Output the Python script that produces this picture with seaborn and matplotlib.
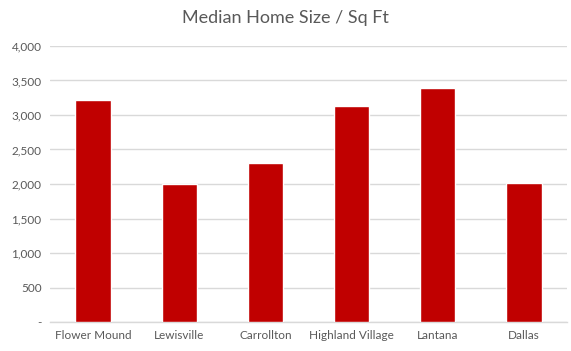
import matplotlib
matplotlib.use("Agg")
import matplotlib.pyplot as plt
import seaborn as sns
import pandas as pd
from matplotlib.ticker import FuncFormatter

cities = ["Flower Mound", "Lewisville", "Carrollton", "Highland Village", "Lantana", "Dallas"]
sizes = [3220, 2005, 2305, 3130, 3395, 2020]
yticks = [0, 500, 1000, 1500, 2000, 2500, 3000, 3500, 4000]

df = pd.DataFrame({"city": cities, "size": sizes})

sns.set_theme(style="white")
plt.rcParams["font.family"] = ["Lato", "DejaVu Sans"]

fig = plt.figure(figsize=(5.71, 3.51), dpi=100)
ax = fig.add_axes([50/571, 29/351, 517/571, (322-46)/351])
sns.barplot(data=df, x="city", y="size", color="#C00000", width=0.41,
            saturation=1, ax=ax, zorder=3)
ax.set_ylim(0, 4000)
ax.set_xlim(-0.5, len(cities) - 0.5)
ax.set_yticks(yticks)
ax.yaxis.set_major_formatter(FuncFormatter(lambda v, p: "-" if v == 0 else f"{int(v):,}"))
ax.grid(axis="y", color="#D9D9D9", linewidth=1, zorder=0)
ax.set_axisbelow(True)
for s in ["top", "right", "left"]:
    ax.spines[s].set_visible(False)
ax.spines["bottom"].set_color("#D9D9D9")
ax.spines["bottom"].set_linewidth(1)
ax.tick_params(axis="both", length=0, labelsize=8.5, labelcolor="#595959", pad=6)
ax.set_xlabel("")
ax.set_ylabel("")
fig.suptitle("Median Home Size / Sq Ft", y=1 - 18/351, va="center",
             fontsize=13, color="#595959")
fig.savefig("out.png", dpi=100)
